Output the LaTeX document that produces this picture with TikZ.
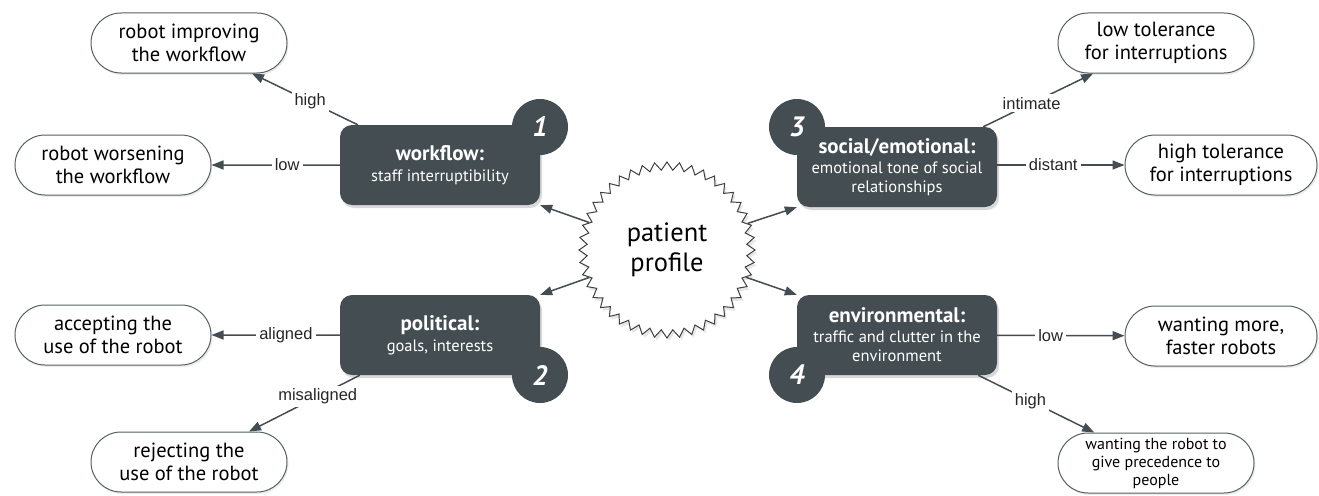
\documentclass[tikz,border=0pt]{standalone}
\usepackage{fontspec}
\setmainfont{PT Sans}
\newfontfamily\labelfont{Liberation Sans}
\usepackage{tikz}
\usetikzlibrary{positioning, arrows.meta, shapes.geometric, shapes.misc, shadows}
\definecolor{slate}{HTML}{434D52}
\newcommand{\factortitle}[1]{{\fontsize{21}{22}\selectfont\bfseries #1}}

\begin{document}
\begin{tikzpicture}[
    x=1pt, y=-1pt,
    factor/.style={rectangle, fill=slate, text=white, align=center, rounded corners=12pt, minimum width=200pt, minimum height=80pt, inner sep=2pt, font=\fontsize{16.5}{19}\selectfont, drop shadow={opacity=0.3, shadow xshift=2pt, shadow yshift=-3pt}},
    badge/.style={circle, fill=slate, text=white, minimum size=56pt, inner sep=0pt, font=\fontsize{28}{30}\selectfont\bfseries\itshape},
    outcome/.style={rounded rectangle, draw=slate!90, line width=1pt, fill=white, align=center, minimum width=200pt, minimum height=60pt, inner sep=2pt, font=\fontsize{20.5}{23}\selectfont, drop shadow={opacity=0.15, shadow xshift=1.5pt, shadow yshift=-2pt}},
    edgelabel/.style={fill=white, inner sep=3pt, font=\labelfont\fontsize{16.5}{18}\selectfont, text=black!85},
    arrow/.style={-{Triangle[length=12pt, width=9pt]}, draw=slate, line width=1.5pt}
]
\useasboundingbox (0,0) rectangle (1319,495);

% Center
\node[star, star points=44, star point ratio=1.1, minimum size=176pt, draw=black!75, line width=1pt, fill=white, align=center, font=\fontsize{26.5}{30}\selectfont, drop shadow={opacity=0.2, shadow xshift=2pt, shadow yshift=-3pt}] (pp) at (667,250) {patient\\profile};

% Factors
\node[factor] (wf) at (440,165) {\factortitle{workflow:}\\[2pt]staff interruptibility};
\node[factor] (po) at (440,335) {\factortitle{political:}\\[2pt]goals, interests};
\node[factor] (sc) at (897,167) {\factortitle{social/emotional:}\\[1pt]emotional tone of social\\relationships};
\node[factor] (en) at (897,335) {\factortitle{environmental:}\\[1pt]traffic and clutter in the\\environment};

% Badges
\node[badge] (b1) at (540,127) {1};
\node[badge] (b2) at (540,375) {2};
\node[badge] (b3) at (797,127) {3};
\node[badge] (b4) at (797,375) {4};

% Outcomes
\node[outcome] (imp) at (189,43) {robot improving\\the workflow};
\node[outcome] (wor) at (113,165) {robot worsening\\the workflow};
\node[outcome] (acc) at (113,335) {accepting the\\use of the robot};
\node[outcome] (rej) at (189,462) {rejecting the\\use of the robot};
\node[outcome] (lowt) at (1156,43) {low tolerance\\for interruptions};
\node[outcome, minimum width=196pt] (hight) at (1221,165) {high tolerance\\for interruptions};
\node[outcome, minimum width=196pt] (more) at (1221,336) {wanting more,\\faster robots};
\node[outcome, font=\fontsize{16}{18}\selectfont] (prec) at (1156,463) {wanting the robot to\\give precedence to\\people};

% Arrows
\draw[arrow] (pp) -- (wf.south east);
\draw[arrow] (pp) -- (po.north east);
\draw[arrow] (pp) -- (sc.south west);
\draw[arrow] (pp) -- (en.north west);

\draw[arrow] ([xshift=18pt]wf.north west) -- node[edgelabel, pos=0.45] {high} (imp);
\draw[arrow] (wf) -- node[edgelabel, pos=0.41] {low} (wor);
\draw[arrow] (po) -- node[edgelabel, pos=0.42] {aligned} (acc);
\draw[arrow] ([xshift=20pt]po.south west) -- node[edgelabel, pos=0.38] {misaligned} (rej);
\draw[arrow] ([xshift=-14pt]sc.north east) -- node[edgelabel, pos=0.44] {intimate} (lowt);
\draw[arrow] (sc.east |- hight) -- node[edgelabel, pos=0.44] {distant} (hight);
\draw[arrow] (en) -- node[edgelabel, pos=0.42] {low} (more);
\draw[arrow] ([xshift=-19pt]en.south east) -- node[edgelabel, pos=0.45] {high} (prec);

\end{tikzpicture}
\end{document}
